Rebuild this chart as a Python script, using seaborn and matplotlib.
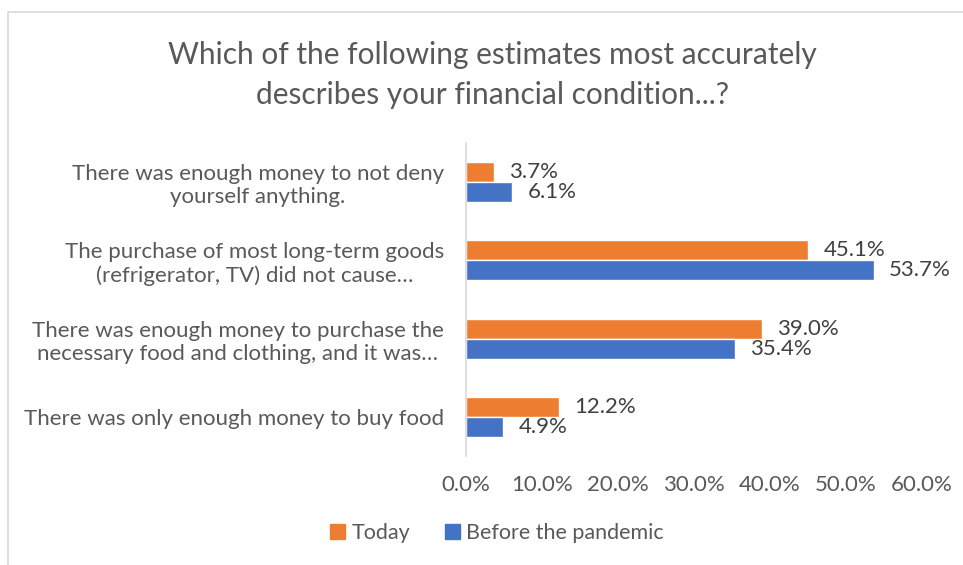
import matplotlib
matplotlib.use("Agg")
import matplotlib.pyplot as plt
import matplotlib.patches as mpatches
import pandas as pd
import seaborn as sns

categories = [
    "There was enough money to not deny\nyourself anything.",
    "The purchase of most long-term goods\n(refrigerator, TV) did not cause\u2026",
    "There was enough money to purchase the\nnecessary food and clothing, and it was\u2026",
    "There was only enough money to buy food",
]
today = [3.7, 45.1, 39.0, 12.2]
before = [6.1, 53.7, 35.4, 4.9]
series = ["Today", "Before the pandemic"]
x_ticks = [0, 10, 20, 30, 40, 50, 60]

df = pd.DataFrame({
    "category": categories * 2,
    "value": today + before,
    "series": [series[0]] * 4 + [series[1]] * 4,
})

sns.set_style("white")
plt.rcParams["font.family"] = ["Lato", "DejaVu Sans"]
text_color = "#595959"

fig = plt.figure(figsize=(9.63, 5.65), dpi=100)
ax = fig.add_axes([0.484, 0.193, 0.473, 0.554])

sns.barplot(data=df, y="category", x="value", hue="series", hue_order=series,
            order=categories, palette=["#ED7D31", "#4472C4"], orient="h",
            width=0.51, ax=ax, legend=False, saturation=1)

for cont in ax.containers:
    ax.bar_label(cont, fmt="%.1f%%", padding=11, fontsize=16, color="#404040")

ax.set_xlim(0, 60)
ax.set_xticks(x_ticks)
ax.set_xticklabels([f"{v:.1f}%" for v in x_ticks], fontsize=16, color=text_color)
ax.tick_params(axis="x", length=0, pad=14)
ax.tick_params(axis="y", length=0, pad=16)
for t in ax.get_yticklabels():
    t.set_multialignment("center")
    t.set_fontsize(16)
    t.set_color(text_color)
ax.set_xlabel("")
ax.set_ylabel("")
for s in ["top", "right", "bottom"]:
    ax.spines[s].set_visible(False)
ax.spines["left"].set_color("#D9D9D9")
ax.spines["left"].set_linewidth(1.2)

fig.text(0.511, 0.867, "Which of the following estimates most accurately\ndescribes your financial condition...?",
         ha="center", va="center", fontsize=21.5, color=text_color, linespacing=1.55)

handles = [mpatches.Patch(color="#ED7D31", label=series[0]),
           mpatches.Patch(color="#4472C4", label=series[1])]
fig.legend(handles=handles, loc="center", bbox_to_anchor=(0.516, 0.056), ncol=2,
           frameon=False, fontsize=15.5, handlelength=0.7, handleheight=0.7,
           handletextpad=0.3, columnspacing=1.6, labelcolor=text_color)

fig.add_artist(mpatches.Rectangle((8 / 963, -0.1), 1.1, 1.1 - 12 / 565,
                                  transform=fig.transFigure, fill=False,
                                  edgecolor="#D9D9D9", linewidth=1.2))

fig.savefig("out.png", dpi=100)
